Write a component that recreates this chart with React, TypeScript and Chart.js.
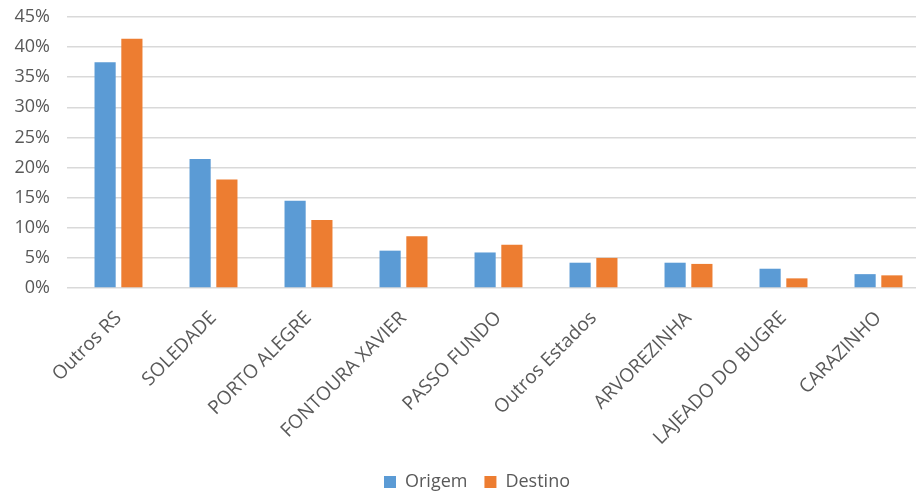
import React, { useEffect, useRef } from 'react';
import { Chart, registerables } from 'chart.js';
Chart.register(...registerables);

const categories = [
  'Outros RS',
  'SOLEDADE',
  'PORTO ALEGRE',
  'FONTOURA XAVIER',
  'PASSO FUNDO',
  'Outros Estados',
  'ARVOREZINHA',
  'LAJEADO DO BUGRE',
  'CARAZINHO',
];
const origem = [37.5, 21.4, 14.5, 6.2, 5.9, 4.2, 4.2, 3.2, 2.3];
const destino = [41.4, 18.0, 11.3, 8.6, 7.2, 5.0, 4.0, 1.6, 2.1];
const yMin = 0;
const yMax = 45;
const yStep = 5;

const TEXT = '#595959';
const FONT = 'Open Sans';

const legendShift = {
  id: 'legendShift',
  afterLayout(chart: any) {
    const l = chart.legend;
    if (l) {
      l.left += 14;
      l.right += 14;
    }
  },
};

export default function App() {
  const ref = useRef<HTMLCanvasElement>(null);
  useEffect(() => {
    const chart = new Chart(ref.current!, {
      type: 'bar',
      data: {
        labels: categories,
        datasets: [
          {
            label: 'Origem',
            data: origem,
            backgroundColor: '#5B9BD5',
            barPercentage: 0.79,
            categoryPercentage: 0.564,
          },
          {
            label: 'Destino',
            data: destino,
            backgroundColor: '#ED7D31',
            barPercentage: 0.79,
            categoryPercentage: 0.564,
          },
        ],
      },
      plugins: [legendShift],
      options: {
        responsive: false,
        animation: false,
        layout: { padding: { left: 0, right: 14, top: 17, bottom: 0 } },
        plugins: {
          legend: {
            position: 'bottom',
            labels: {
              boxWidth: 12,
              boxHeight: 12,
              padding: 17,
              color: TEXT,
              font: { family: FONT, size: 18 },
            },
          },
          tooltip: { enabled: false },
        },
        scales: {
          x: {
            grid: { display: false },
            border: { display: false },
            ticks: {
              autoSkip: false,
              maxRotation: 45,
              minRotation: 45,
              padding: 11,
              color: TEXT,
              font: { family: FONT, size: 19 },
            },
            afterFit: (s: any) => {
              s.height = 168;
            },
          },
          y: {
            min: yMin,
            max: yMax,
            ticks: {
              stepSize: yStep,
              padding: 17,
              color: TEXT,
              font: { family: FONT, size: 18 },
              callback: (v: any) => v + '%',
            },
            grid: { color: '#d9d9d9', lineWidth: 1.5, drawTicks: true, tickLength: 4 },
            border: { display: false },
            afterFit: (s: any) => {
              s.width = 71;
              s.paddingTop = 0;
              s.paddingBottom = 0;
            },
          },
        },
      },
    });
    return () => chart.destroy();
  }, []);
  return (
    <div style={{ position: 'fixed', left: 0, top: 0, width: 940, height: 501, background: '#fff' }}>
      <canvas ref={ref} width={940} height={501} />
    </div>
  );
}
